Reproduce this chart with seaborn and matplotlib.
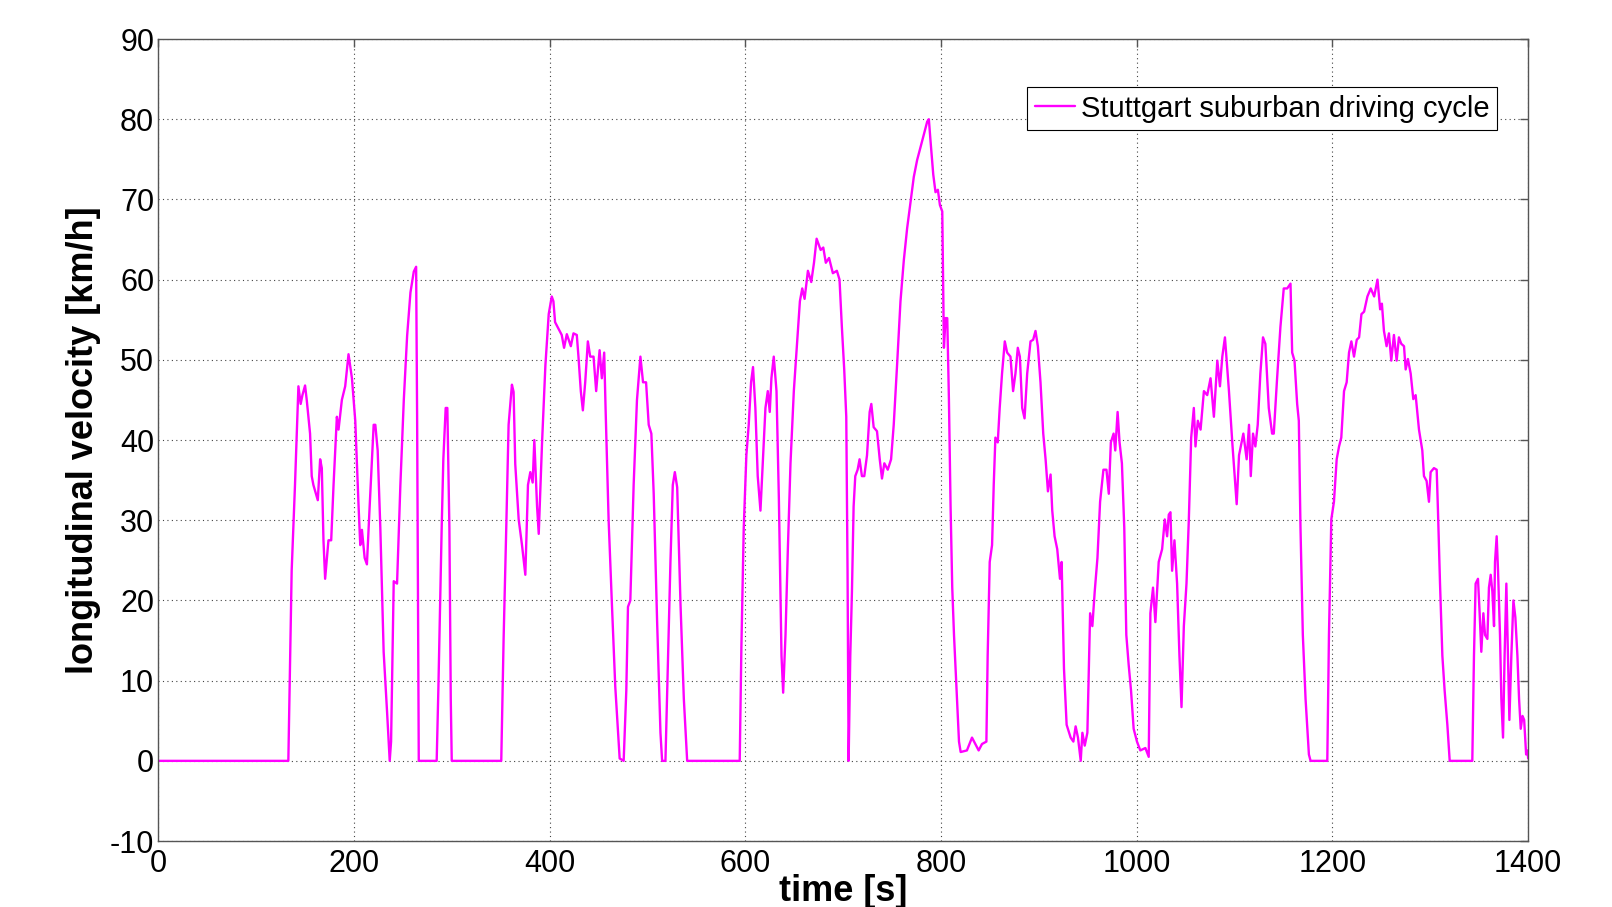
import numpy as np
import pandas as pd
import seaborn as sns
import matplotlib
matplotlib.use("Agg")
import matplotlib.pyplot as plt

# Stuttgart suburban driving cycle
# time [s] / longitudinal velocity [km/h], split into sections
time_a = [0, 132.9, 136.3, 139.7, 143.2, 145.5, 147.3, 150, 151.7, 155.1, 156.8, 158.5, 163, 165.4,
          167.1, 168.8, 170.5, 173.9, 176.7, 179.1, 182.5, 184.2, 187.6, 191, 194.4, 197.9, 201.3,
          204.7, 206.4, 208.1, 210.9, 213.2, 216, 220.1, 221.8, 224.2, 226.9, 230.3, 233.8, 236.5,
          237.9, 240.6, 244, 247.4, 250.9, 254.3, 257.7, 261.1, 263.5, 264.5, 266.2, 284.5, 286.2,
          289.6, 291.3, 293.7, 295.4, 297.5, 298.9, 299.9]
speed_a = [0, 0, 23.7, 34.4, 46.7, 44.5, 45.6, 46.8, 45, 40.8, 35.5, 34.4, 32.5, 37.6,
           36.5, 27.5, 22.7, 27.5, 27.5, 34.4, 42.9, 41.3, 45, 46.7, 50.7, 47.7, 42.4,
           31.7, 26.9, 28.8, 25.3, 24.5, 31.7, 41.9, 41.9, 38.7, 29.1, 13.6, 6.1, 0,
           2.4, 22.4, 22.1, 34.4, 45, 53, 58.4, 61, 61.6, 43, 0, 0, 8.8,
           29, 37.6, 44, 44, 29, 7.7, 0]

time_b = [350.5, 352.9, 355.6, 358, 361.4, 363.1, 364.8, 368.3, 371.7, 375.1, 377.8, 380.2, 382.6,
          384.3, 387.1, 388.8, 392.2, 395.6, 399, 402.1, 403.8, 405.5, 408.9, 412.3, 414.7, 417.5,
          421.6, 424.3, 427.7, 429.4, 431.8, 433.9, 436.3, 439, 441.4, 444.8, 447.5, 451, 453.3,
          455.7, 457.1, 460.2, 463.6, 467, 471.5, 475.6, 478.3, 480, 482.4, 485.8, 489.2, 492.7,
          495.4, 498.5, 501.2, 503.9, 506.3, 509.8, 513.2, 514.9, 518.3, 521, 523.4, 525.8, 527.9,
          530.3, 533.7, 537.1, 540.5]
speed_b = [0, 15.2, 29, 41.9, 46.9, 46, 37, 30.1, 26.9, 23.2, 34.4, 36, 34.7,
           40, 31.7, 28.3, 39.7, 49.3, 55.7, 57.9, 57.3, 54.7, 53.9, 53.1, 51.5, 53.2,
           51.7, 53.3, 53.1, 50.4, 46.1, 43.7, 47.2, 52.3, 50.4, 50.4, 46.1, 51.2, 47.7,
           50.9, 44, 30.1, 19.5, 9.3, 0.3, 0, 8.8, 19.2, 20, 34.4, 45, 50.4,
           47.2, 47.2, 41.9, 40.8, 33.3, 17.3, 3.5, 0, 0, 13.1, 24.8, 34.4, 36,
           34.1, 19.5, 7.7, 0]

time_c = [594.2, 595.9, 598.3, 601, 603.4, 605.8, 607.8, 610.2, 612.6, 615.4, 617.7, 620.5, 622.9,
          624.9, 626.6, 629, 631.8, 634.2, 636.9, 638.6, 641, 643.4, 646.1, 649.5, 653, 655.7,
          658.1, 660.5, 663.9, 667.3, 670.1, 672.8, 676.9, 679.6, 682.2, 685.5, 689.4, 693.5, 696.2,
          698.6, 701, 703.1, 704.4, 705.5, 707.2, 708.9, 710.6, 712.3, 714.7, 716.7, 719.1, 721.5,
          724.3, 727, 728.7, 731.1, 734.5, 737.3, 739.6, 742, 745.5, 748.9, 751.6, 755, 758.5,
          761.9, 765.3, 768.7, 772.1, 775.5, 779, 782.4, 785.8, 787.5, 789.2, 792, 794.3, 796.7,
          798.8, 801.2, 802.9, 804.6, 806.3, 808, 809.7, 811.4, 813.2, 815.9, 818.3, 820]
speed_c = [0, 14.1, 29, 38.1, 41.9, 47.2, 49.1, 44, 35.5, 31.2, 37.1, 44, 46.1,
           43.5, 47.7, 50.4, 46.1, 32.8, 13.1, 8.5, 15.7, 26.4, 37.1, 46.1, 52.5, 57.3,
           58.9, 57.6, 61.1, 59.7, 62.1, 65.1, 63.7, 64, 62.1, 62.7, 60.8, 61.1, 60,
           54.1, 48.8, 42.9, 23.7, 0, 13.1, 21.1, 31.7, 35.5, 36.3, 37.6, 35.5, 35.5,
           38.1, 43.5, 44.5, 41.6, 41.1, 37.6, 35.2, 37.1, 36.3, 37.6, 41.9, 49.3, 57.3,
           62.4, 66.4, 69.6, 72.8, 74.9, 76.5, 78.1, 79.7, 80, 77.3, 73.1, 70.9, 71.2,
           69.3, 68.5, 51.5, 55.2, 55.2, 45.1, 31.7, 21.6, 15.7, 8.8, 2.4, 1.1]

time_d = [826.4, 831.6, 835, 838.4, 841.8, 846.3, 847.6, 849.7, 852.1, 853.8, 855.5, 857.9, 859.9,
          862.3, 865.1, 867.5, 870.9, 873.6, 876, 878.4, 880.5, 882.9, 885.3, 888, 891.4, 894.1,
          896.5, 898.9, 901.6, 904.4, 906.8, 909.2, 911.9, 913.6, 916, 918.7, 921.5, 923.2, 925.6,
          928.3, 932.4, 935.2, 937.5, 939.9, 942.7, 944.4, 946.8, 949.5, 952.3, 954.6, 957, 959.8,
          962.5, 965.9, 969, 971.4, 973.5, 976.3, 978, 980.4, 982.4, 984.8, 987.2, 989.3, 991.7,
          994.1, 996.8, 1000.2, 1003.6, 1008.8, 1012.2, 1013.9, 1016.6, 1019, 1022.4, 1025.9,
          1028.6, 1031, 1032.7, 1034.4, 1036.1, 1038.5, 1041.2, 1043.6, 1045.7, 1048.1, 1050.8,
          1053.2, 1055.6, 1058.3, 1060, 1062.4, 1065.2, 1068.6, 1072, 1075.4, 1078.8, 1082.3,
          1085, 1087.4, 1090.1, 1094.2, 1097.6, 1100]
speed_d = [1.3, 2.9, 2.1, 1.3, 2.1, 2.4, 13.1, 24.8, 26.9, 34.4, 40.3, 39.7, 44,
           48.3, 52.3, 50.9, 50.4, 46.1, 48.3, 51.5, 50.4, 44, 42.7, 48.3, 52.3, 52.5,
           53.6, 51.7, 47.2, 40.8, 37.6, 33.6, 35.7, 31.2, 28, 26.4, 22.7, 24.8, 11.5,
           4.5, 2.9, 2.4, 4.3, 2.9, 0, 3.5, 1.9, 3.5, 18.4, 16.8, 21.1, 25.3,
           32.3, 36.3, 36.3, 33.3, 39.7, 40.8, 38.7, 43.5, 39.7, 37.1, 29.1, 15.7, 12,
           8.8, 4, 2.4, 1.3, 1.6, 0.5, 18.4, 21.6, 17.3, 24.8, 26.4,
           30.1, 28, 30.7, 31, 23.7, 27.5, 22.1, 13.1, 6.7, 16.8, 22.1,
           30.1, 40.3, 44, 39.2, 42.4, 41.3, 46.1, 45.6, 47.7, 42.9, 49.9,
           46.7, 50.4, 52.8, 46.1, 39.7, 35.5]

time_e = [1102.1, 1104.5, 1108.9, 1112.3, 1114.7, 1116.5, 1118.8, 1121.2, 1123.6, 1126.3, 1129,
          1131.4, 1134.9, 1138.3, 1140, 1143.4, 1146.8, 1150.2, 1153.7, 1157.1, 1158.8, 1161.2,
          1163.9, 1165.6, 1167.3, 1169.7, 1172.5, 1175.9, 1177.6, 1194.7, 1196.4, 1198.8, 1201.5,
          1204.3, 1206.7, 1209, 1211.8, 1214.5, 1216.9, 1219.3, 1222, 1224.8, 1227.2, 1229.6,
          1232.3, 1235.7, 1239.1, 1242.6, 1246, 1248.7, 1250.5, 1252.6, 1255.3, 1257.7, 1260.1,
          1262.8, 1265.6, 1267.9, 1270.3, 1273.1, 1274.8, 1277.1, 1279.9, 1282.6, 1285, 1288.4,
          1291.8, 1293.5, 1296.2, 1298.6, 1300.3, 1303.7, 1306.5, 1307.8, 1309.9, 1312.3, 1314.6,
          1317.4, 1319.8, 1342.9, 1344.6, 1346.3, 1348.7, 1350.4, 1352.1, 1354.2, 1355.9, 1358.3,
          1359.9, 1361.7, 1363.4, 1365.1, 1366.1, 1367.8, 1369.2, 1371.2, 1372.6, 1374.3, 1375.9,
          1377.7, 1379.4, 1380.8, 1382.8, 1384.9, 1386.9, 1389, 1390.7, 1392.4, 1394.2, 1395.9,
          1397.9, 1399.2, 1400]
speed_e = [32, 38.1, 40.8, 37.6, 41.9, 35.5, 40.8, 39.2, 41.9, 48.3, 52.8,
           52, 44, 40.8, 40.8, 47.7, 54.1, 58.9, 58.9, 59.5, 50.9, 49.9,
           44.5, 42.4, 29.1, 15.7, 7.7, 0.8, 0, 0, 15.7, 30.1, 32.3,
           37.6, 39.2, 40.3, 46.1, 47.2, 50.9, 52.3, 50.4, 52.5, 52.8, 55.7,
           56, 57.9, 58.9, 57.9, 60, 56.3, 57, 53.6, 51.7, 53.3, 49.9,
           53.1, 49.9, 52.8, 52, 51.7, 48.8, 50.1, 48.3, 45.1, 45.6, 41.3,
           38.7, 35.5, 34.9, 32.3, 36, 36.5, 36.3, 31.2, 22.1, 13.1, 8.8,
           4.5, 0, 0, 13.1, 22.1, 22.7, 18.4, 13.6, 18.4, 15.7, 15.2,
           21.6, 23.2, 21.1, 16.8, 24.8, 28, 23.7, 15.7, 7.7, 2.9, 13.1,
           22.1, 13.1, 5.1, 13.1, 20, 17.9, 13.1, 7.7, 4, 5.6, 5.1,
           0.8, 1.3, 0.3]

x_ticks = list(range(0, 1401, 200))
y_ticks = list(range(-10, 91, 10))

df = pd.DataFrame({
    "time": time_a + time_b + time_c + time_d + time_e,
    "speed": speed_a + speed_b + speed_c + speed_d + speed_e,
})
df["cycle"] = "Stuttgart suburban driving cycle"

sns.set_style("white")
plt.rcParams["font.family"] = ["Liberation Sans", "DejaVu Sans"]
plt.rcParams["axes.unicode_minus"] = False
plt.rcParams["text.color"] = "black"
plt.rcParams["axes.labelcolor"] = "black"
plt.rcParams["xtick.color"] = "black"
plt.rcParams["ytick.color"] = "black"

fig = plt.figure(figsize=(16.12, 9.07), dpi=100)
ax = fig.add_axes([0.0982, 0.0727, 0.8498, 0.8843])

sns.lineplot(data=df, x="time", y="speed", hue="cycle", palette=["#FF00FF"],
             sort=False, estimator=None, linewidth=1.7, ax=ax)

ax.set_xlim(0, 1400)
ax.set_ylim(-10, 90)
ax.set_xticks(x_ticks)
ax.set_yticks(y_ticks)
ax.grid(True, linestyle=(0, (1, 3)), color="#444444", linewidth=0.8)

for s in ax.spines.values():
    s.set_color("#555555")
    s.set_linewidth(1.0)
ax.tick_params(direction="in", length=6, width=1, color="#555555", labelcolor="black",
               top=True, right=True, labelsize=22)
ax.tick_params(axis="x", pad=6)
ax.tick_params(axis="y", pad=3)

ax.set_xlabel("time [s]", fontsize=26, fontweight="bold", labelpad=-4)
ax.set_ylabel("longitudinal velocity [km/h]", fontsize=26, fontweight="bold", labelpad=6)

leg = ax.legend(loc="upper right", bbox_to_anchor=(0.9774, 0.9398), borderaxespad=0,
                fontsize=21, handlelength=1.4, handletextpad=0.2, borderpad=0.25,
                fancybox=False, framealpha=1, edgecolor="black", title=None)
leg.get_frame().set_linewidth(0.8)

fig.savefig("out.png", dpi=100)
